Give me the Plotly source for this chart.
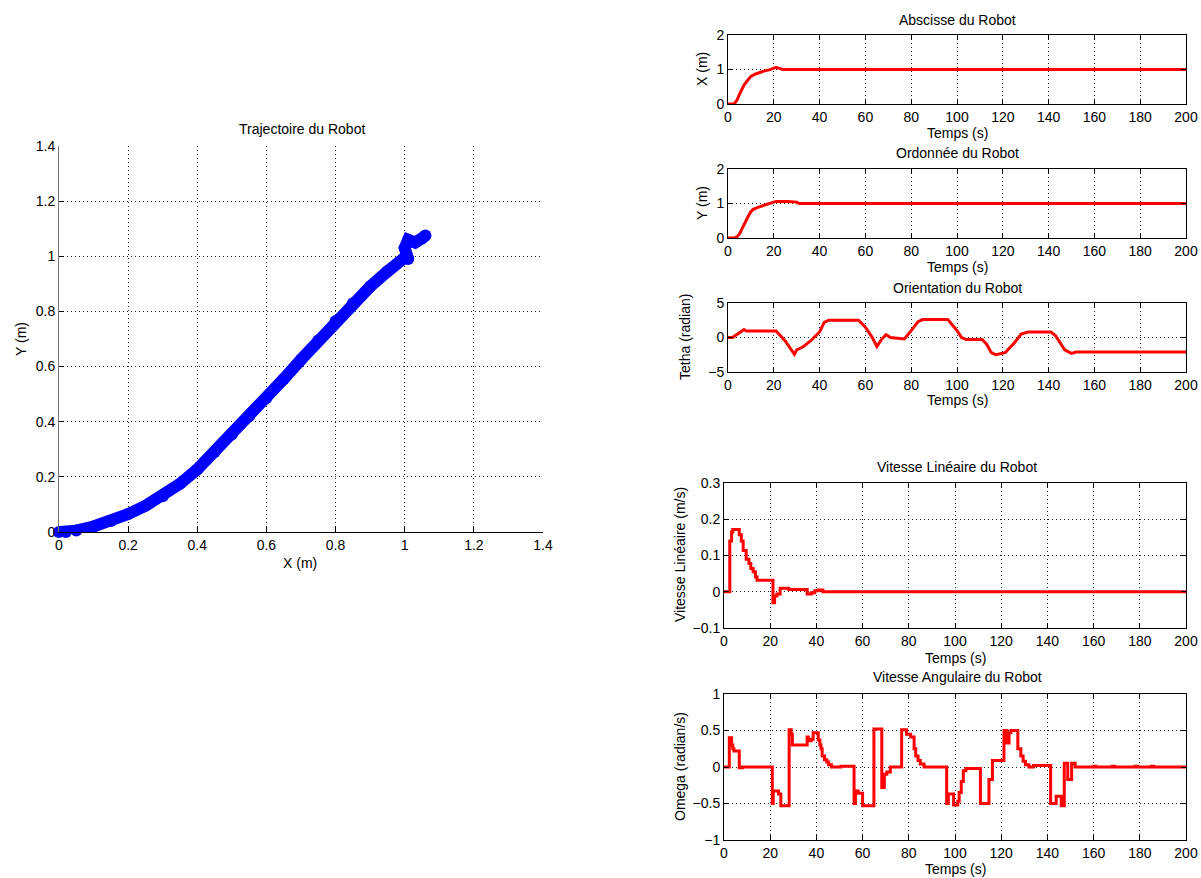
import plotly.graph_objects as go

# ---------------- data ----------------
traj_x = [0, 0.02, 0.05, 0.1, 0.15, 0.2, 0.25, 0.3, 0.35, 0.4, 0.45, 0.5, 0.55, 0.6, 0.65,
          0.7, 0.75, 0.8, 0.85, 0.9, 0.95, 1.0, 1.01, 1.0, 1.01, 1.03, 1.05, 1.06]
traj_y = [0, 0.0, 0.005, 0.02, 0.04, 0.065, 0.095, 0.13, 0.175, 0.227, 0.29, 0.354, 0.42,
          0.486, 0.555, 0.625, 0.695, 0.765, 0.83, 0.89, 0.945, 0.995, 0.99, 1.03, 1.06, 1.05, 1.065, 1.075]

t_x = [0, 2.5, 3, 4, 5, 6, 7, 8, 9, 10, 12, 14, 16, 18, 20, 21, 22, 23, 24, 200]
x_val = [0, 0, 0.03, 0.12, 0.28, 0.42, 0.55, 0.64, 0.72, 0.8, 0.87, 0.92, 0.96, 0.99, 1.03, 1.06, 1.04, 1.02, 1.0, 1.0]

t_y = [0, 3, 4, 5, 6, 7, 8, 9, 10, 11, 13, 15, 17, 19, 20, 21, 26, 27, 30, 31, 200]
y_val = [0, 0.01, 0.04, 0.12, 0.25, 0.4, 0.53, 0.65, 0.76, 0.83, 0.89, 0.93, 0.97, 1.02, 1.05, 1.06, 1.06, 1.05, 1.04, 1.0, 1.0]

t_th = [0, 2, 5, 7, 8, 21, 25, 29, 30, 33, 36, 40, 42, 44, 57, 60, 63, 65, 67, 69, 71, 73, 77,
        80, 83, 85, 96, 100, 102, 104, 111, 113, 115, 117, 119, 121, 125, 128, 131, 141, 143,
        147, 150, 152, 200]
th_val = [0, 0, 0.7, 1.15, 0.95, 0.95, -0.5, -2.45, -1.8, -1.3, -0.5, 0.8, 2.2, 2.5, 2.5, 1.5,
          0, -1.3, -0.3, 0.4, 0, -0.1, -0.2, 1.0, 2.3, 2.6, 2.6, 1.0, 0, -0.3, -0.3, -1.0, -2.2,
          -2.5, -2.3, -2.2, -0.8, 0.5, 0.8, 0.8, 0.3, -1.8, -2.3, -2.1, -2.1]

t_v = [0, 2.5, 3.3, 3.8, 6.6, 7.5, 8.3, 9.6, 10.8, 11.6, 12.6, 13.6, 14.3, 21.2, 21.9, 22.9,
       24.3, 28, 36, 37.8, 39.3, 40.8, 42.8, 200]
v_val = [0, 0.14, 0.165, 0.172, 0.157, 0.14, 0.114, 0.09, 0.078, 0.064, 0.055, 0.041, 0.032,
         -0.03, -0.012, -0.006, 0.01, 0.006, -0.006, -0.003, 0.003, 0.005, 0, 0]

t_w = [0, 2.3, 3.3, 3.8, 4.3, 6.6, 8, 20.9, 21.3, 23.6, 24.6, 28.2, 29.1, 29.6, 36, 36.5, 37.8,
       38.6, 40.8, 41.5, 42, 42.5, 43.5, 44.5, 45.3, 46.5, 50.6, 56.3, 56.9, 58.1, 60, 64.9, 68.3,
       69.4, 70.5, 72, 76.9, 79, 80.8, 82.3, 83, 84, 85, 86.6, 96.4, 97.1, 99.4, 101.2, 101.8,
       102.7, 103.6, 104.7, 111, 114.7, 116.2, 121.2, 122.4, 123.4, 124.2, 127.2, 128.5, 129.5,
       130.5, 132, 134, 141.4, 143.8, 146, 147.3, 148.8, 150.5, 152, 160, 161, 168, 169, 178, 179,
       185, 186, 200]
w_val = [0, 0.4, 0.3, 0.25, 0.22, -0.01, 0, -0.5, -0.33, -0.37, -0.53, 0.51, 0.45, 0.3, 0.41,
         0.36, 0.38, 0.47, 0.37, 0.3, 0.25, 0.15, 0.1, 0.07, 0.03, 0, 0.01, -0.5, -0.33, -0.36,
         -0.53, 0.52, -0.28, -0.1, -0.07, 0, 0.51, 0.45, 0.41, 0.25, 0.15, 0.09, 0.04, 0, -0.5,
         -0.37, -0.52, -0.47, -0.35, -0.2, -0.05, -0.02, -0.5, -0.17, 0.09, 0.5, 0.33, 0.47, 0.5,
         0.25, 0.15, 0.08, 0.03, 0, 0.02, -0.5, -0.4, -0.53, 0.05, -0.17, 0.05, 0, 0.01, 0, 0.01,
         0, 0.01, 0, 0.01, 0, 0]

time_ticks = [0, 20, 40, 60, 80, 100, 120, 140, 160, 180, 200]
traj_ticks = [0, 0.2, 0.4, 0.6, 0.8, 1, 1.2, 1.4]

# ---------------- layout helpers ----------------
W, H = 1201, 878
FONT = "Liberation Sans, Arial, Helvetica, sans-serif"
TICK_SIZE = 14
LABEL_SIZE = 14
TITLE_SIZE = 14


def px_x(p):
    return p / W


def px_y(p):
    return 1 - p / H


fig = go.Figure()

RED = "#ff0000"

fig.add_trace(go.Scatter(x=traj_x, y=traj_y, mode="lines+markers", cliponaxis=False,
                         line=dict(color="#0000ff", width=12),
                         marker=dict(color="#0000ff", size=12, symbol="circle"),
                         xaxis="x", yaxis="y", showlegend=False))
fig.add_trace(go.Scatter(x=t_x, y=x_val, mode="lines", line=dict(color=RED, width=3),
                         xaxis="x2", yaxis="y2", showlegend=False))
fig.add_trace(go.Scatter(x=t_y, y=y_val, mode="lines", line=dict(color=RED, width=3),
                         xaxis="x3", yaxis="y3", showlegend=False))
fig.add_trace(go.Scatter(x=t_th, y=th_val, mode="lines", line=dict(color=RED, width=3),
                         xaxis="x4", yaxis="y4", showlegend=False))
fig.add_trace(go.Scatter(x=t_v, y=v_val, mode="lines", line=dict(color=RED, width=3, shape="hv"),
                         xaxis="x5", yaxis="y5", showlegend=False))
fig.add_trace(go.Scatter(x=t_w, y=w_val, mode="lines", line=dict(color=RED, width=3, shape="hv"),
                         xaxis="x6", yaxis="y6", showlegend=False))

tickfont = dict(family=FONT, size=TICK_SIZE, color="black")
grid = dict(showgrid=True, gridcolor="#222", gridwidth=1, griddash="1px,3px", zeroline=False)


def ax(domain, rng, tickvals, anchor, mirror=True, linecolor="black"):
    return dict(domain=domain, range=rng, tickvals=tickvals, anchor=anchor,
                showline=True, linecolor=linecolor, linewidth=1, automargin=False,
                mirror="allticks" if mirror else False,
                ticks="inside", ticklen=5, tickcolor="black", tickwidth=1,
                tickfont=tickfont, fixedrange=True, **grid)


R_LEFT_A, R_LEFT_B, R_RIGHT = 728, 724, 1186

panels = [
    # (xaxis key, yaxis key, left px, top px, bottom px, yrange, yticks)
    ("xaxis2", "yaxis2", R_LEFT_A, 35, 104, [0, 2], [0, 1, 2]),
    ("xaxis3", "yaxis3", R_LEFT_A, 169, 238, [0, 2], [0, 1, 2]),
    ("xaxis4", "yaxis4", R_LEFT_A, 303, 372, [-5, 5], [-5, 0, 5]),
    ("xaxis5", "yaxis5", R_LEFT_B, 483, 628, [-0.1, 0.3], [-0.1, 0, 0.1, 0.2, 0.3]),
    ("xaxis6", "yaxis6", R_LEFT_B, 694, 840, [-1, 1], [-1, -0.5, 0, 0.5, 1]),
]

layout = dict(
    template="none",
    width=W, height=H, margin=dict(l=0, r=0, t=0, b=0, pad=0), autosize=False,
    paper_bgcolor="white", plot_bgcolor="white",
    font=dict(family=FONT, size=13, color="black"),
    showlegend=False,
)

layout["xaxis"] = ax([px_x(59), px_x(543)], [0, 1.4], traj_ticks, "y", mirror=False)
layout["yaxis"] = ax([px_y(532), px_y(146)], [0, 1.4], traj_ticks, "x", mirror=False, linecolor="#777")

for xk, yk, lpx, top, bot, yr, yt in panels:
    n = xk[5:]
    layout[xk] = ax([px_x(lpx), px_x(R_RIGHT)], [0, 200], time_ticks, "y" + n)
    layout[yk] = ax([px_y(bot), px_y(top)], yr, yt, "x" + n)

fig.update_layout(**layout)

annots = [
    # text, x px, y px, size, rotate
    ("Trajectoire du Robot", 302, 129, TITLE_SIZE, 0),
    ("X (m)", 300, 563, LABEL_SIZE, 0),
    ("Y (m)", 21, 339, LABEL_SIZE, -90),
    ("Abscisse du Robot", 957, 20, TITLE_SIZE, 0),
    ("X (m)", 702, 69, LABEL_SIZE, -90),
    ("Temps (s)", 957, 133, LABEL_SIZE, 0),
    ("Ordonnée du Robot", 957, 153, TITLE_SIZE, 0),
    ("Y (m)", 702, 203, LABEL_SIZE, -90),
    ("Temps (s)", 957, 267, LABEL_SIZE, 0),
    ("Orientation du Robot", 957, 288, TITLE_SIZE, 0),
    ("Tetha (radian)", 685, 337, LABEL_SIZE, -90),
    ("Temps (s)", 957, 400, LABEL_SIZE, 0),
    ("Vitesse Linéaire du Robot", 957, 467, TITLE_SIZE, 0),
    ("Vitesse Linéaire (m/s)", 680, 555, LABEL_SIZE, -90),
    ("Temps (s)", 955, 658, LABEL_SIZE, 0),
    ("Vitesse Angulaire du Robot", 957, 677, TITLE_SIZE, 0),
    ("Omega (radian/s)", 680, 767, LABEL_SIZE, -90),
    ("Temps (s)", 955, 869, LABEL_SIZE, 0),
]
for text, xp, yp, size, rot in annots:
    fig.add_annotation(text=text, x=px_x(xp), y=px_y(yp), xref="paper", yref="paper",
                       showarrow=False, textangle=rot, xanchor="center", yanchor="middle",
                       font=dict(family=FONT, size=size, color="black"))

fig.write_html("out.html", config={"displayModeBar": False},
               post_script="document.body.style.margin='0px';")
